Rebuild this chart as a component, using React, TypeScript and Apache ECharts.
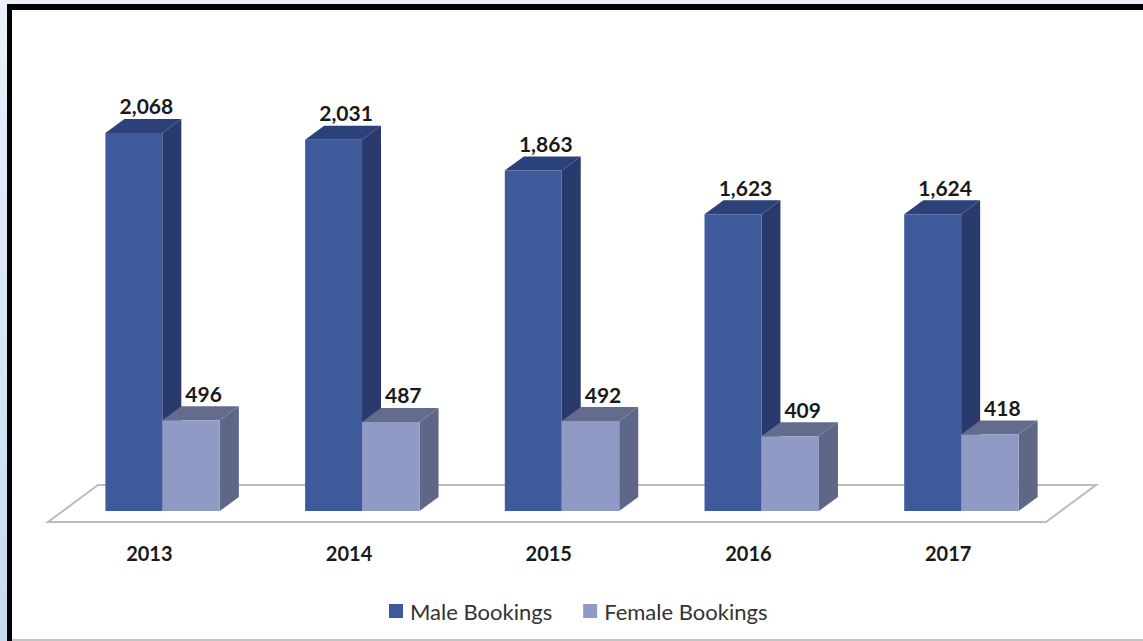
import React, { useEffect, useRef } from "react";
import * as echarts from "echarts";

const categories = ["2013", "2014", "2015", "2016", "2017"];
const maleBookings = [2068, 2031, 1863, 1623, 1624];
const femaleBookings = [496, 487, 492, 409, 418];

const W = 1143;
const H = 641;
const DX = 19;
const DY = 14;

function bar3d(start: number, end: number, front: any, side: string, top: string) {
  return (params: any, api: any) => {
    const cat = api.value(0);
    const val = api.value(1);
    const base = api.coord([cat, 0]);
    const head = api.coord([cat, val]);
    const band = api.size([1, 0])[0];
    const x0 = base[0] + band * start;
    const x1 = base[0] + band * end;
    const yb = base[1];
    const yt = head[1];
    return {
      type: "group",
      children: [
        { type: "polygon", shape: { points: [[x1, yb], [x1 + DX, yb - DY], [x1 + DX, yt - DY], [x1, yt]] }, style: { fill: side } },
        { type: "polygon", shape: { points: [[x0, yt], [x0 + DX, yt - DY], [x1 + DX, yt - DY], [x1, yt]] }, style: { fill: top } },
        { type: "rect", shape: { x: x0, y: yt, width: x1 - x0, height: yb - yt }, style: { fill: front } },
        {
          type: "text",
          style: {
            text: Number(val).toLocaleString("en-US"),
            x: (x0 + x1) / 2 + DX / 2 + 3,
            y: yt - DY - 13,
            align: "center",
            verticalAlign: "middle",
            fontFamily: "Lato",
            fontWeight: 700,
            fontSize: 21,
            fill: "#1a1a1a",
          },
        },
      ],
    };
  };
}

export default function App() {
  const ref = useRef<HTMLDivElement>(null);
  useEffect(() => {
    document.body.style.margin = "0";
    const chart = echarts.init(ref.current!, null, { renderer: "svg" });
    chart.setOption({
      animation: false,
      backgroundColor: "#ffffff",
      grid: { left: 49.5, right: W - 1048, top: 54, bottom: H - 511 },
      xAxis: {
        type: "category",
        data: categories,
        axisLine: { show: false },
        axisTick: { show: false },
        axisLabel: { margin: 32, fontFamily: "Lato", fontWeight: 700, fontSize: 20, color: "#1a1a1a" },
      },
      yAxis: { type: "value", min: 0, max: 2500, show: false },
      legend: {
        left: 384,
        top: 595,
        itemWidth: 14,
        itemHeight: 14,
        itemGap: 31,
        icon: "rect",
        textStyle: { fontFamily: "Lato", fontSize: 22, color: "#333333", padding: [0, 0, 0, 2] },
        data: ["Male Bookings", "Female Bookings"],
      },
      graphic: [
        {
          type: "rect",
          z: 0,
          shape: { x: 0, y: 0, width: W, height: H },
          style: {
            fill: new echarts.graphic.LinearGradient(0, 0, 0, 1, [
              { offset: 0, color: "#e9f0fa" },
              { offset: 1, color: "#c6dbf0" },
            ]),
          },
        },
        { type: "rect", z: 0, shape: { x: 7, y: 4, width: W - 7, height: H - 4 }, style: { fill: "#000000" } },
        { type: "rect", z: 0, shape: { x: 12, y: 10, width: W - 12, height: 629 }, style: { fill: "#ffffff" } },
        { type: "rect", z: 0, shape: { x: 12, y: 639, width: W - 12, height: 2 }, style: { fill: "#c4c4c4" } },
        {
          type: "polygon",
          z: 1,
          shape: { points: [[48, 522], [1046, 522], [1096, 485], [98, 485]] },
          style: { fill: "#ffffff", stroke: "#bcbcbc", lineWidth: 2 },
        },
      ],
      series: [
        {
          name: "Male Bookings",
          type: "custom",
          z: 3,
          itemStyle: { color: "#3f5a9a" },
          encode: { x: 0, y: 1 },
          data: maleBookings.map((v, i) => [i, v]),
          renderItem: bar3d(-0.22, 0.065, "#3f5a9a", "#2a3a6c", "#2c4079"),
        },
        {
          name: "Female Bookings",
          type: "custom",
          z: 4,
          itemStyle: { color: "#8f9ac5" },
          encode: { x: 0, y: 1 },
          data: femaleBookings.map((v, i) => [i, v]),
          renderItem: bar3d(0.065, 0.353, "#8f9ac5", "#5e6786", "#636c8d"),
        },
      ],
    });
    return () => chart.dispose();
  }, []);
  return <div ref={ref} style={{ width: W, height: H }} />;
}
